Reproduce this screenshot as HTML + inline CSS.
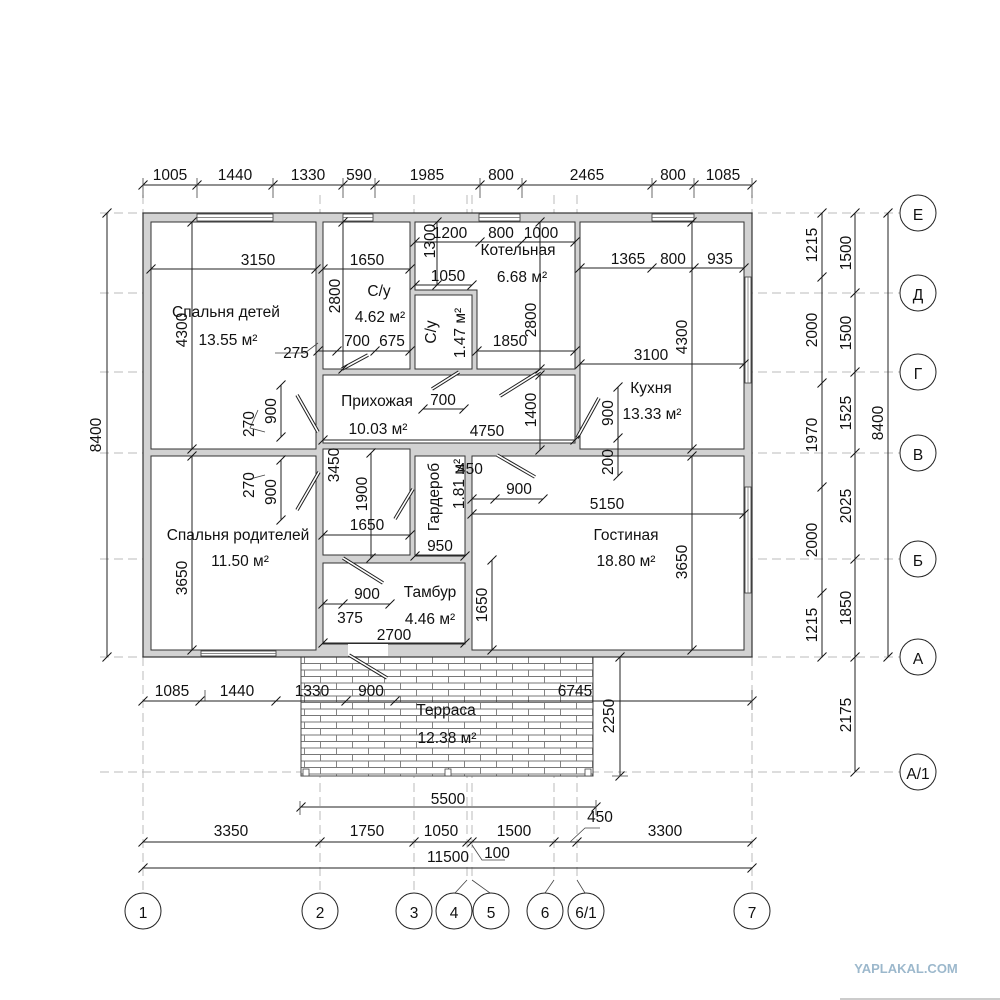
<!DOCTYPE html>
<html><head><meta charset="utf-8"><style>
html,body{margin:0;padding:0;background:#fff}
svg{display:block}
text{font-family:"Liberation Sans","DejaVu Sans",sans-serif;font-size:15.5px;fill:#111}
</style></head><body>
<svg width="1000" height="1000" viewBox="0 0 1000 1000" xmlns="http://www.w3.org/2000/svg">
<defs>
<marker id="t" markerWidth="12" markerHeight="12" refX="6" refY="6" orient="0" markerUnits="userSpaceOnUse"><path d="M1.5 10.5 L10.5 1.5" stroke="#111" stroke-width="1" fill="none"/></marker>
<pattern id="br" width="32" height="13" patternUnits="userSpaceOnUse">
<rect width="32" height="13" fill="#fff"/>
<path d="M0 0.5H32M0 7H32M0.5 0.5V7M16.5 7V13" stroke="#777" stroke-width="0.9" fill="none"/>
</pattern>
</defs>

<g stroke="#bbb" stroke-width="1" stroke-dasharray="9 5" fill="none">
<path d="M143 195V892M320 195V892M414 195V892M467 195V880M472 195V880M554 195V880M577 195V880M752 195V892"/>
<path d="M100 213H900M100 293H900M100 372H900M100 453H900M100 559H900M100 657H900M100 772H900"/>
</g>

<rect x="301" y="657" width="292" height="119" fill="url(#br)" stroke="#444" stroke-width="1"/>
<g fill="#fff" stroke="#444" stroke-width="0.8"><rect x="303" y="769" width="6" height="7"/><rect x="445" y="769" width="6" height="7"/><rect x="585" y="769" width="6" height="7"/></g>

<rect x="143" y="213" width="609" height="444" fill="#d2d2d2" stroke="#333" stroke-width="1.2"/>
<g fill="#fff" stroke="#333" stroke-width="1">
<rect x="151" y="222" width="165" height="227"/>
<rect x="151" y="456" width="165" height="194"/>
<rect x="323" y="222" width="87" height="147"/>
<path d="M415 222H575V369H477V290H415Z"/>
<rect x="415" y="295" width="57" height="74"/>
<rect x="323" y="375" width="252" height="68"/>
<rect x="323" y="449" width="87" height="106"/>
<rect x="415" y="456" width="50" height="99"/>
<rect x="472" y="456" width="272" height="194"/>
<rect x="323" y="563" width="142" height="81"/>
<rect x="580" y="222" width="164" height="227"/>
</g>
<g fill="#fff" stroke="#333" stroke-width="0.8">
<rect x="197" y="214" width="76" height="7"/><rect x="343" y="214" width="30" height="7"/><rect x="479" y="214" width="41" height="7"/><rect x="652" y="214" width="42" height="7"/>
<rect x="201" y="651" width="75" height="5"/>
<rect x="745" y="277" width="6" height="106"/><rect x="745" y="487" width="6" height="106"/>
<rect x="348" y="644" width="40" height="12" stroke="none"/>
</g>
<g stroke="#666" stroke-width="0.7"><path d="M197 217.5H273M343 217.5H373M479 217.5H520M652 217.5H694M201 653.5H276M748 277V383M748 487V593"/></g>

<g stroke="#222" stroke-width="3.6" stroke-linecap="butt"><path d="M297 395L318 432M342 369L368 355M432 389L459 372M500 396L540 371M577 438L599 398M297 510L319 472M395 519L413 489M497 455L535 477M343 558L383 583M349 655L387 678"/></g>
<g stroke="#fff" stroke-width="1.6"><path d="M297 395L318 432M342 369L368 355M432 389L459 372M500 396L540 371M577 438L599 398M297 510L319 472M395 519L413 489M497 455L535 477M343 558L383 583M349 655L387 678"/></g>

<g stroke="#222" stroke-width="1" fill="none" marker-start="url(#t)" marker-mid="url(#t)" marker-end="url(#t)">
<polyline points="143,185 197,185 273,185 343,185 375,185 480,185 522,185 652,185 694,185 752,185"/>
<polyline points="143,701 200,701 276,701 346,701 395,701 752,701"/>
<polyline points="301,807 596,807"/>
<polyline points="143,842 320,842 414,842 467,842 472,842 554,842 577,842 752,842"/>
<polyline points="143,868 752,868"/>
<polyline points="107,213 107,657"/>
<polyline points="822,213 822,277 822,383 822,487 822,593 822,657"/>
<polyline points="855,213 855,293 855,372 855,453 855,559 855,657 855,772"/>
<polyline points="888,213 888,657"/>
<polyline points="620,657 620,776"/>
<polyline points="151,269 316,269"/>
<polyline points="323,269 410,269"/>
<polyline points="415,242 480,242 522,242 575,242"/>
<polyline points="415,285 472,285"/>
<polyline points="437,222 437,285"/>
<polyline points="580,268 652,268 694,268 744,268"/>
<polyline points="343,222 343,369"/>
<polyline points="318,351 337,351 375,351 410,351"/>
<polyline points="540,222 540,369"/>
<polyline points="477,351 575,351"/>
<polyline points="580,364 744,364"/>
<polyline points="692,222 692,449"/>
<polyline points="692,456 692,650"/>
<polyline points="192,222 192,449"/>
<polyline points="192,456 192,650"/>
<polyline points="423,409 464,409"/>
<polyline points="540,375 540,450"/>
<polyline points="281,385 281,437"/>
<polyline points="281,460 281,520"/>
<polyline points="618,387 618,438 618,476"/>
<polyline points="371,453 371,558"/>
<polyline points="323,535 410,535"/>
<polyline points="415,556 465,556"/>
<polyline points="472,499 495,499 543,499"/>
<polyline points="472,514 744,514"/>
<polyline points="492,560 492,650"/>
<polyline points="323,604 343,604 390,604"/>
<polyline points="323,643 465,643"/>
<polyline points="323,440 575,440"/>
</g>
<g stroke="#444" stroke-width="0.8" fill="none">
<path d="M143 178V198M197 178V198M273 178V198M343 178V198M375 178V198M480 178V198M522 178V198M652 178V198M694 178V198M752 178V198"/>
<path d="M275 353L305 353L318 343M265 432L250 428L258 410M265 475L250 479M300 801L300 815M596 800L596 815M570 842L585 828H600M472 845L482 860H505M205 701V690M752 690V710M612 776H628"/>
<path d="M467 880L455 893M472 880L490 893M554 880L545 893M577 880L585 893"/>
</g>

<g fill="#fff" stroke="#222" stroke-width="1">
<circle cx="143" cy="911" r="18"/><circle cx="320" cy="911" r="18"/><circle cx="414" cy="911" r="18"/><circle cx="454" cy="911" r="18"/><circle cx="491" cy="911" r="18"/><circle cx="545" cy="911" r="18"/><circle cx="586" cy="911" r="18"/><circle cx="752" cy="911" r="18"/>
<circle cx="918" cy="213" r="18"/><circle cx="918" cy="293" r="18"/><circle cx="918" cy="372" r="18"/><circle cx="918" cy="453" r="18"/><circle cx="918" cy="559" r="18"/><circle cx="918" cy="657" r="18"/><circle cx="918" cy="772" r="18"/>
</g>
<g text-anchor="middle" style="font-size:19px">
<text x="143" y="918">1</text><text x="320" y="918">2</text><text x="414" y="918">3</text><text x="454" y="918">4</text><text x="491" y="918">5</text><text x="545" y="918">6</text><text x="586" y="918">6/1</text><text x="752" y="918">7</text>
<text x="918" y="220">Е</text><text x="918" y="300">Д</text><text x="918" y="379">Г</text><text x="918" y="460">В</text><text x="918" y="566">Б</text><text x="918" y="664">А</text><text x="918" y="779">А/1</text>
</g>

<g text-anchor="middle">
<text x="170" y="180">1005</text><text x="235" y="180">1440</text><text x="308" y="180">1330</text><text x="359" y="180">590</text><text x="427" y="180">1985</text><text x="501" y="180">800</text><text x="587" y="180">2465</text><text x="673" y="180">800</text><text x="723" y="180">1085</text>
<text x="172" y="696">1085</text><text x="237" y="696">1440</text><text x="312" y="696">1330</text><text x="371" y="696">900</text><text x="575" y="696">6745</text>
<text x="448" y="804">5500</text>
<text x="231" y="836">3350</text><text x="367" y="836">1750</text><text x="441" y="836">1050</text><text x="514" y="836">1500</text><text x="600" y="822">450</text><text x="497" y="858">100</text><text x="665" y="836">3300</text>
<text x="448" y="862">11500</text>
<text x="258" y="265">3150</text><text x="367" y="265">1650</text>
<text x="450" y="238">1200</text><text x="501" y="238">800</text><text x="541" y="238">1000</text>
<text x="448" y="281">1050</text>
<text x="628" y="264">1365</text><text x="673" y="264">800</text><text x="720" y="264">935</text>
<text x="296" y="358">275</text><text x="357" y="346">700</text><text x="392" y="346">675</text>
<text x="510" y="346">1850</text><text x="651" y="360">3100</text>
<text x="443" y="405">700</text><text x="487" y="436">4750</text>
<text x="367" y="530">1650</text><text x="440" y="551">950</text>
<text x="470" y="474">450</text><text x="519" y="494">900</text><text x="607" y="509">5150</text>
<text x="367" y="599">900</text><text x="350" y="623">375</text><text x="394" y="640">2700</text>
</g>
<g text-anchor="middle">
<text transform="translate(101,435) rotate(-90)">8400</text>
<text transform="translate(817,245) rotate(-90)">1215</text>
<text transform="translate(817,330) rotate(-90)">2000</text>
<text transform="translate(817,435) rotate(-90)">1970</text>
<text transform="translate(817,540) rotate(-90)">2000</text>
<text transform="translate(817,625) rotate(-90)">1215</text>
<text transform="translate(851,253) rotate(-90)">1500</text>
<text transform="translate(851,333) rotate(-90)">1500</text>
<text transform="translate(851,413) rotate(-90)">1525</text>
<text transform="translate(851,506) rotate(-90)">2025</text>
<text transform="translate(851,608) rotate(-90)">1850</text>
<text transform="translate(851,715) rotate(-90)">2175</text>
<text transform="translate(883,423) rotate(-90)">8400</text>
<text transform="translate(614,716) rotate(-90)">2250</text>
<text transform="translate(187,330) rotate(-90)">4300</text>
<text transform="translate(187,578) rotate(-90)">3650</text>
<text transform="translate(340,296) rotate(-90)">2800</text>
<text transform="translate(435,241) rotate(-90)">1300</text>
<text transform="translate(536,320) rotate(-90)">2800</text>
<text transform="translate(687,337) rotate(-90)">4300</text>
<text transform="translate(687,562) rotate(-90)">3650</text>
<text transform="translate(536,410) rotate(-90)">1400</text>
<text transform="translate(276,411) rotate(-90)">900</text>
<text transform="translate(254,424) rotate(-90)">270</text>
<text transform="translate(254,485) rotate(-90)">270</text>
<text transform="translate(276,492) rotate(-90)">900</text>
<text transform="translate(613,413) rotate(-90)">900</text>
<text transform="translate(613,462) rotate(-90)">200</text>
<text transform="translate(339,465) rotate(-90)">3450</text>
<text transform="translate(367,494) rotate(-90)">1900</text>
<text transform="translate(487,605) rotate(-90)">1650</text>
</g>

<g text-anchor="middle">
<text x="226" y="317">Спальня детей</text><text x="228" y="345">13.55 м²</text>
<text x="379" y="296">С/у</text><text x="380" y="322">4.62 м²</text>
<text x="518" y="255">Котельная</text><text x="522" y="282">6.68 м²</text>
<text transform="translate(436,332) rotate(-90)">С/у</text>
<text transform="translate(465,333) rotate(-90)">1.47 м²</text>
<text x="377" y="406">Прихожая</text><text x="378" y="434">10.03 м²</text>
<text x="651" y="393">Кухня</text><text x="652" y="419">13.33 м²</text>
<text x="238" y="540">Спальня родителей</text><text x="240" y="566">11.50 м²</text>
<text transform="translate(439,497) rotate(-90)">Гардероб</text>
<text transform="translate(464,484) rotate(-90)">1.81 м²</text>
<text x="626" y="540">Гостиная</text><text x="626" y="566">18.80 м²</text>
<text x="430" y="597">Тамбур</text><text x="430" y="624">4.46 м²</text>
<text x="446" y="715">Терраса</text><text x="447" y="743">12.38 м²</text>
</g>

<text x="906" y="973" text-anchor="middle" style="font-size:13px;font-weight:bold;fill:#9cb8cc">YAPLAKAL.COM</text>
<path d="M840 999H1000" stroke="#999" stroke-width="1"/>
</svg>
</body></html>
